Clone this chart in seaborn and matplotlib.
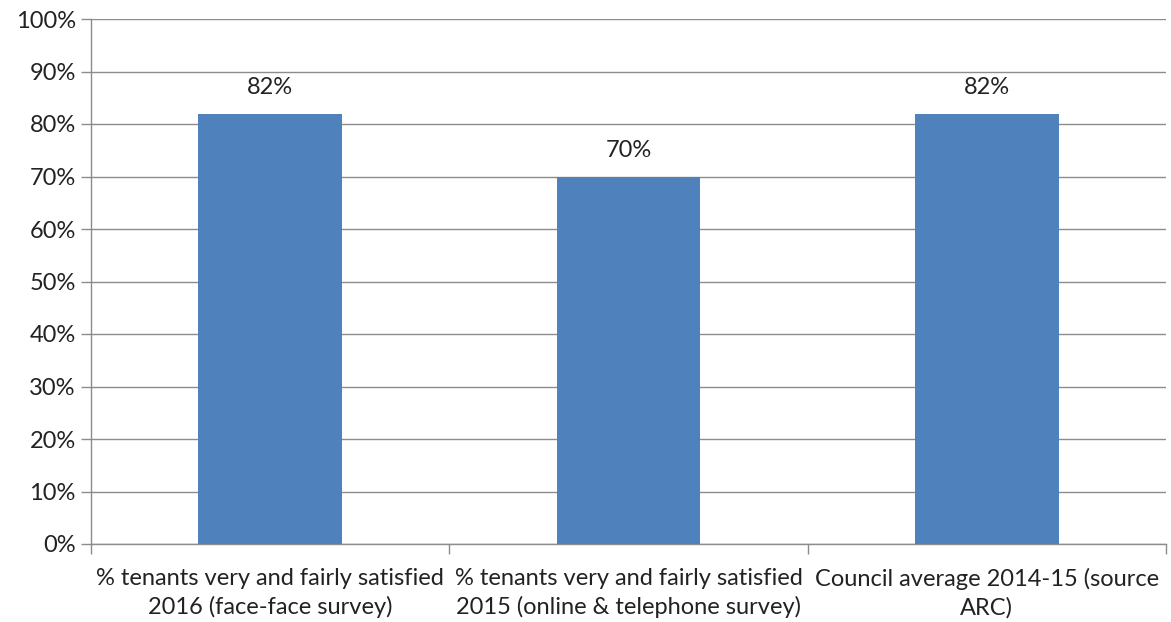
import matplotlib
matplotlib.use("Agg")
import matplotlib.pyplot as plt
import seaborn as sns
import pandas as pd
from matplotlib.ticker import FixedLocator

categories = [
    "% tenants very and fairly satisfied\n2016 (face-face survey)",
    "% tenants very and fairly satisfied\n2015 (online & telephone survey)",
    "Council average 2014-15 (source\nARC)",
]
values = [82, 70, 82]
value_labels = ["82%", "70%", "82%"]
y_ticks = [0, 10, 20, 30, 40, 50, 60, 70, 80, 90, 100]
y_tick_labels = [f"{v}%" for v in y_ticks]

sns.set_style("white")
plt.rcParams["font.family"] = ["Lato", "DejaVu Sans"]

df = pd.DataFrame({"category": categories, "value": values})

fig = plt.figure(figsize=(11.71, 6.22), dpi=100)
ax = fig.add_axes([91 / 1171, 78 / 622, (1166 - 91) / 1171, (544 - 19) / 622])

sns.barplot(data=df, x="category", y="value", color="#4F81BD", width=0.4,
            saturation=1, ax=ax, zorder=3, linewidth=0)

fs = 17
ax.set_ylim(0, 100)
ax.set_xlim(-0.5, 2.5)
ax.set_yticks(y_ticks)
ax.set_yticklabels(y_tick_labels, fontsize=fs, color="#222222")
ax.yaxis.grid(True, color="#8c8c8c", linewidth=1, zorder=0)
ax.set_axisbelow(True)

ax.set_xticks(range(len(categories)))
ax.set_xticklabels(categories, fontsize=fs, color="#222222", linespacing=1.4)
ax.tick_params(axis="x", which="major", length=0, pad=17, bottom=True)
ax.xaxis.set_minor_locator(FixedLocator([-0.5, 0.5, 1.5, 2.5]))
ax.tick_params(axis="x", which="minor", length=7, color="#8c8c8c", width=1,
               direction="out", bottom=True)
ax.tick_params(axis="y", which="major", length=7, color="#8c8c8c", width=1,
               direction="out", pad=4, left=True)

for s in ["top", "right"]:
    ax.spines[s].set_visible(False)
for s in ["left", "bottom"]:
    ax.spines[s].set_color("#8c8c8c")
    ax.spines[s].set_linewidth(1)

ax.set_xlabel("")
ax.set_ylabel("")

for i, (v, lab) in enumerate(zip(values, value_labels)):
    ax.annotate(lab, (i, v), xytext=(0, 11), textcoords="offset points",
                ha="center", va="bottom", fontsize=fs, color="#222222")

fig.savefig("out.png", dpi=100)
